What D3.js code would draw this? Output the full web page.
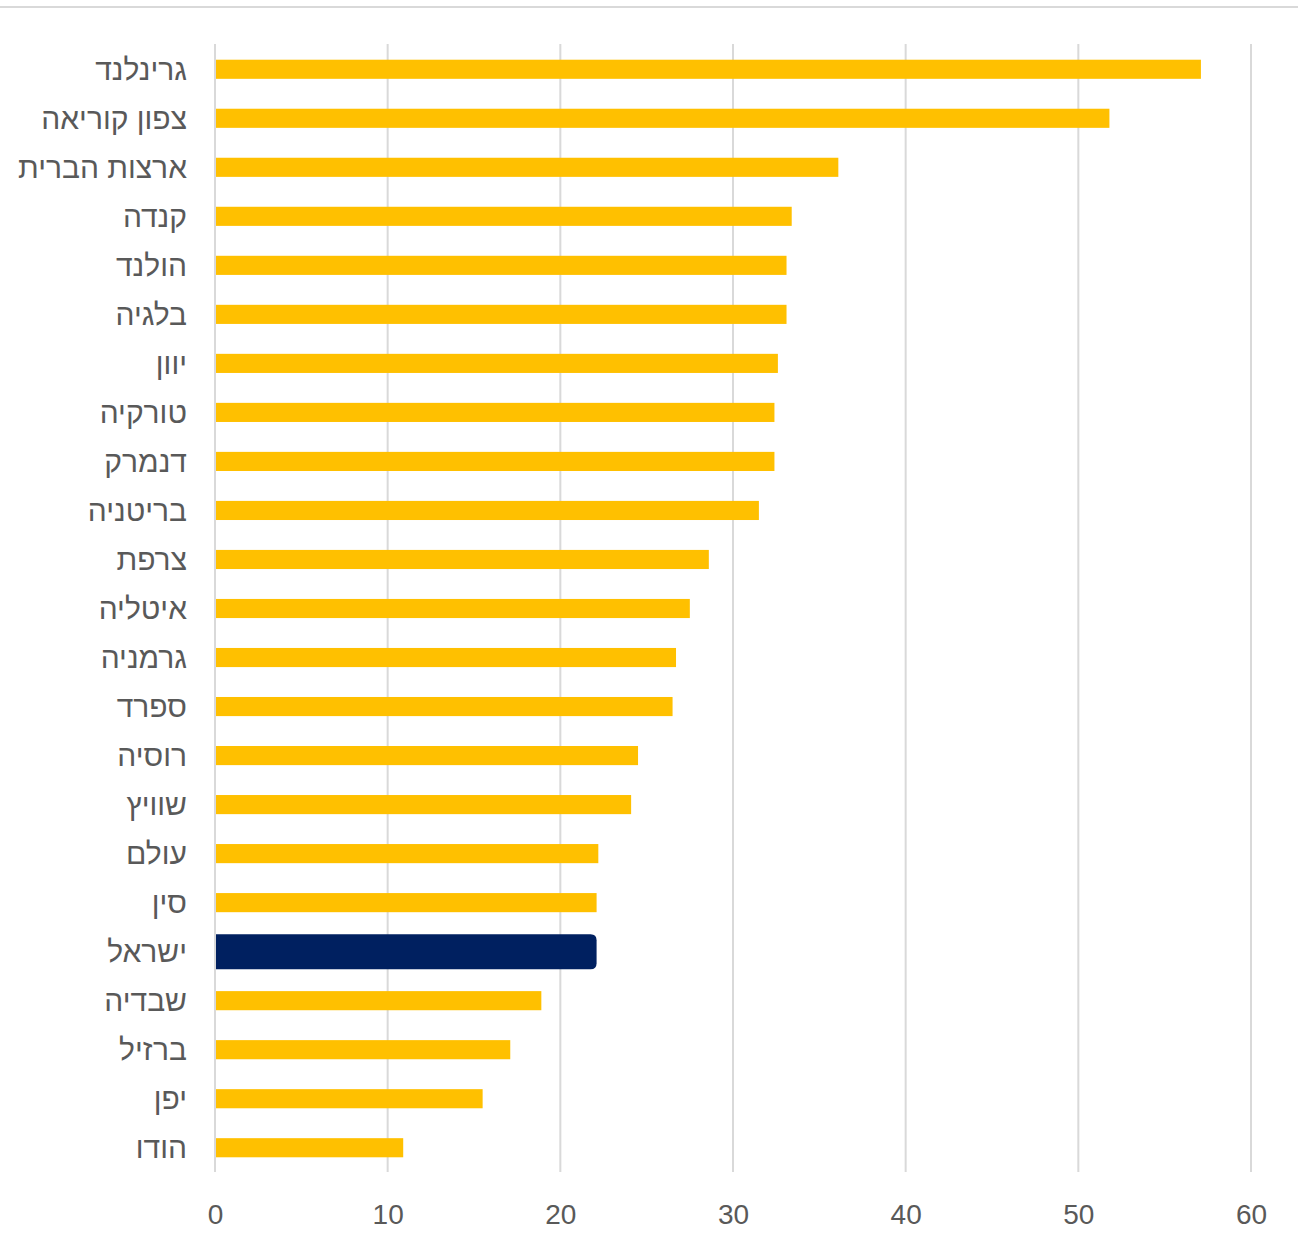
<!DOCTYPE html>
<html><head><meta charset="utf-8">
<script src="https://cdn.jsdelivr.net/npm/d3@7"></script>
<style>
html,body{margin:0;padding:0;background:#fff;}
svg{display:block;}
text{font-family:"Liberation Sans","DejaVu Sans",Arial,sans-serif;fill:#595959;}
</style></head>
<body>
<svg id="chart" width="1298" height="1239"></svg>
<script>
const categories = ["גרינלנד","צפון קוריאה","ארצות הברית","קנדה","הולנד","בלגיה","יוון","טורקיה","דנמרק","בריטניה","צרפת","איטליה","גרמניה","ספרד","רוסיה","שוויץ","עולם","סין","ישראל","שבדיה","ברזיל","יפן","הודו"];
const values = [57.1,51.8,36.1,33.4,33.1,33.1,32.6,32.4,32.4,31.5,28.6,27.5,26.7,26.5,24.5,24.1,22.2,22.1,22.1,18.9,17.1,15.5,10.9];
const highlight = "ישראל";
const xTicks = [0,10,20,30,40,50,60];

const svg = d3.select("#chart");
const x = d3.scaleLinear().domain([0,60]).range([215,1251]);
const y = d3.scaleBand().domain(categories).range([45,1172]).paddingInner(0.61).paddingOuter(0.3);

// top border line
svg.append("line").attr("x1",0).attr("x2",1298).attr("y1",7).attr("y2",7)
  .attr("stroke","#d9d9d9").attr("stroke-width",2);

// gridlines
svg.append("g").selectAll("line").data(xTicks).join("line")
  .attr("x1",d=>x(d)).attr("x2",d=>x(d)).attr("y1",44).attr("y2",1172)
  .attr("stroke","#d9d9d9").attr("stroke-width",2);

const data = categories.map((c,i)=>({c,v:values[i]}));

// normal bars
svg.append("g").selectAll("rect").data(data.filter(d=>d.c!==highlight)).join("rect")
  .attr("x",x(0)+1).attr("y",d=>y(d.c)).attr("width",d=>x(d.v)-x(0)-1).attr("height",y.bandwidth())
  .attr("fill","#ffc000");

// highlighted bar, taller with rounded right corners
const hb = data.filter(d=>d.c===highlight);
svg.append("g").selectAll("path").data(hb).join("path")
  .attr("d",d=>{
    const cy = y(d.c)+y.bandwidth()/2, h=35, r=6;
    const x0 = x(0)+1, x1 = x(d.v), y0 = cy-h/2, y1 = cy+h/2;
    return `M${x0},${y0}H${x1-r}Q${x1},${y0} ${x1},${y0+r}V${y1-r}Q${x1},${y1} ${x1-r},${y1}H${x0}Z`;
  })
  .attr("fill","#002060");

// category labels
svg.append("g").selectAll("text").data(categories).join("text")
  .attr("x",187).attr("y",d=>y(d)+y.bandwidth()/2)
  .attr("text-anchor","end").attr("dominant-baseline","central")
  .style("font-size","30px")
  .text(d=>d);

// x axis labels
const xAxis = d3.axisBottom(x).tickValues(xTicks).tickSize(0).tickPadding(0);
const gx = svg.append("g").attr("transform","translate(0,1210)").call(xAxis);
gx.select(".domain").remove();
gx.selectAll("text").style("font-size","28px").attr("fill","#595959").attr("dy","0.5em")
  .style("font-family","\"Liberation Sans\",\"DejaVu Sans\",Arial,sans-serif");
</script>
</body></html>
